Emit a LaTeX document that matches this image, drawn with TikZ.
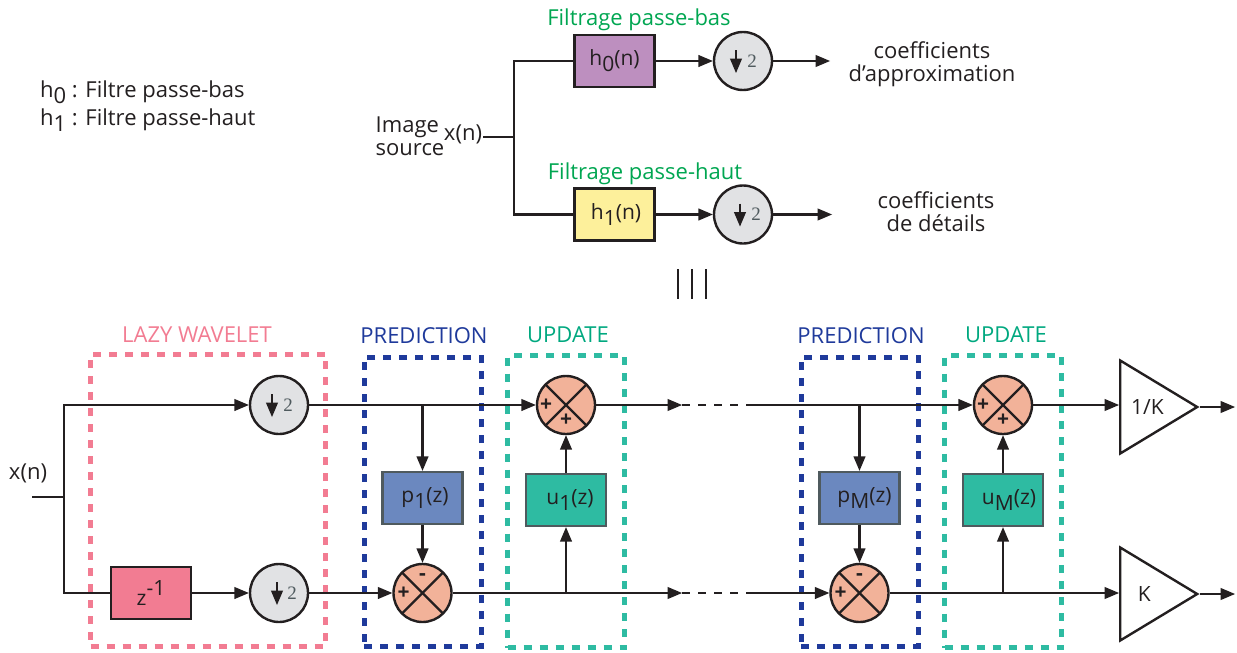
\documentclass[tikz,border=0pt]{standalone}
\usepackage{fontspec}
\setmainfont{Open Sans}
\newfontfamily\numfont{Liberation Serif}
\usepackage{tikz}
\usetikzlibrary{arrows,shapes.geometric}

\definecolor{inkblack}{HTML}{231F20}
\definecolor{mauvefill}{HTML}{BD8FBF}
\definecolor{yellowfill}{HTML}{FDF09B}
\definecolor{greyfill}{HTML}{E1E2E4}
\definecolor{sumfill}{HTML}{F2B299}
\definecolor{lazypink}{HTML}{F27C92}
\definecolor{predblue}{HTML}{6B88BF}
\definecolor{prednavy}{HTML}{1F3A9B}
\definecolor{updteal}{HTML}{2EBBA2}
\definecolor{updtext}{HTML}{00A87F}
\definecolor{filtgreen}{HTML}{00A651}
\definecolor{edgegrey}{HTML}{4F5A5E}

\newcommand{\lowr}[1]{\raisebox{-6pt}{#1}}
\newcommand{\highr}[1]{\raisebox{10pt}{#1}}

\tikzset{
  wire/.style={line width=2.4pt,color=inkblack},
  filterbox/.style={draw=inkblack,line width=2.4pt,minimum width=80pt,minimum height=52pt,inner sep=0pt,text=inkblack},
  liftbox/.style={filterbox,draw=edgegrey},
  dsamp/.style={circle,draw=inkblack,line width=2.4pt,fill=greyfill,minimum size=58pt,inner sep=0pt,
    font=\numfont\fontsize{19pt}{19pt}\selectfont,text=edgegrey,
    path picture={\draw[->,wire] ([xshift=#1,yshift=11pt]path picture bounding box.center) -- ++(0,-23pt);}},
  sumnode/.style={circle,draw=inkblack,line width=2.4pt,fill=sumfill,minimum size=58pt,inner sep=0pt,
    path picture={
      \draw[wire] (path picture bounding box.north west) -- (path picture bounding box.south east);
      \draw[wire] (path picture bounding box.north east) -- (path picture bounding box.south west);}},
  signmark/.style={inner sep=0pt,font=\fontsize{21pt}{21pt}\bfseries\selectfont,text=inkblack},
  gain/.style={isosceles triangle,isosceles triangle stretches,draw=inkblack,line width=2.4pt,
    minimum width=93pt,minimum height=77pt,inner sep=0pt,anchor=lower side,text=inkblack},
  dashbox/.style={line width=5pt,dash pattern=on 8pt off 8pt,inner sep=0pt},
  caption/.style={inner sep=0pt,font=\fontsize{22pt}{23pt}\selectfont,text=inkblack,align=center},
}

\begin{document}
\begin{tikzpicture}[x=1pt,y=-1pt,>=triangle 45,font=\fontsize{21pt}{23pt}\selectfont]
    \useasboundingbox (0,0) rectangle (1237,653);

    % dashed stages
    \node[dashbox,draw=lazypink,minimum width=235pt,minimum height=292pt] (lazy) at (208,500) {};
    \node[dashbox,draw=prednavy,minimum width=117pt,minimum height=289pt] (predA) at (422.5,501.5) {};
    \node[dashbox,draw=updteal,minimum width=117pt,minimum height=292pt] (updA) at (566,501.5) {};
    \node[dashbox,draw=prednavy,minimum width=117pt,minimum height=289pt] (predB) at (859.5,501.5) {};
    \node[dashbox,draw=updteal,minimum width=117pt,minimum height=292pt] (updB) at (1003,501.5) {};

    \node[caption,text=lazypink] (lazyText) at (197,335) {LAZY WAVELET};
    \node[caption,text=prednavy] (predTextA) at (424,336) {PREDICTION};
    \node[caption,text=updtext] (updTextA) at (568,335) {UPDATE};
    \node[caption,text=prednavy] (predTextB) at (861,336) {PREDICTION};
    \node[caption,text=updtext] (updTextB) at (1006,335) {UPDATE};

    % legend
    \node[caption,anchor=west] (legendA) at (40,92.5) {h\lowr{0} : Filtre passe-bas};
    \node[caption,anchor=west] (legendB) at (40,120.5) {h\lowr{1} : Filtre passe-haut};

    % filter bank
    \node[filterbox,fill=mauvefill] (hA) at (614.5,61) {h\lowr{0}(n)};
    \node[dsamp=-7pt] (downA) [right of=hA,node distance=128.5pt] {\hspace*{18pt}2};
    \node[filterbox,fill=yellowfill] (hB) at (614.5,214.5) {\hspace*{3pt}h\lowr{1}(n)};
    \node[dsamp=-3pt] (downB) [right of=hB,node distance=128.5pt] {\hspace*{26pt}2};
    \node[caption,text=filtgreen] (bankTextA) at (639,19.5) {Filtrage passe-bas};
    \node[caption,text=filtgreen] (bankTextB) at (645,173.5) {Filtrage passe-haut};
    \node[caption,align=left] (imgText) at (410,136) {Image\\source};
    \node[caption] (xTextA) at (463,134) {x(n)};
    \node[caption] (approxText) at (932,64) {coefficients\\d'approximation};
    \node[caption] (detailText) at (936,212) {coefficients\\de détails};
    \coordinate (inA) at (483,137);
    \coordinate (splitA) at (514,137);
    \coordinate (outA) at (830,61);
    \coordinate (outB) at (832,214.5);

    \draw[wire] (inA) -- (splitA);
    \draw[wire] (splitA) |- (hA);
    \draw[wire] (splitA) |- (hB);
    \path[->,wire]
    (hA) edge (downA)
    (downA) edge (outA)
    (hB) edge (downB)
    (downB) edge (outB)
    ;

    % equivalence
    \foreach \eqx in {678,692,706}
      \draw[wire] (\eqx,269) -- (\eqx,299);

    % lifting scheme
    \node[caption] (xTextB) at (28,473) {x(n)};
    \node[dsamp=-7pt] (downC) at (279,405) {\hspace*{18pt}2};
    \node[filterbox,fill=lazypink] (delay) at (151,593) {z\highr{-1}};
    \node[dsamp=-2pt] (downD) at (279,593) {\hspace*{26pt}2};
    \node[liftbox,fill=predblue] (pA) at (422.5,498) {\hspace*{5pt}p\lowr{1}(z)};
    \node[sumnode] (sumB) at (422.5,593) {};
    \node[liftbox,fill=updteal] (uA) at (566,500) {\hspace*{8pt}u\lowr{1}(z)};
    \node[sumnode] (sumA) at (566,405) {};
    \node[liftbox,fill=predblue] (pB) at (859.5,498) {\hspace*{10pt}p\lowr{M}(z)};
    \node[sumnode] (sumD) at (859.5,593) {};
    \node[liftbox,fill=updteal] (uB) at (1003,500) {\hspace*{12pt}u\lowr{M}(z)};
    \node[sumnode] (sumC) at (1003,405) {};
    \node[gain] (gainA) at (1119,407) {1/K};
    \node[gain] (gainB) at (1119,594) {K};

    \node[signmark] (signAa) at ([xshift=-20pt]sumA.center) {+};
    \node[signmark] (signAb) at ([yshift=-15pt]sumA.center) {+};
    \node[signmark] (signBa) at ([xshift=-19pt]sumB.center) {+};
    \node[signmark] (signBb) at ([yshift=16pt]sumB.center) {-};
    \node[signmark] (signCa) at ([xshift=-20pt]sumC.center) {+};
    \node[signmark] (signCb) at ([yshift=-15pt]sumC.center) {+};
    \node[signmark] (signDa) at ([xshift=-19pt]sumD.center) {+};
    \node[signmark] (signDb) at ([yshift=16pt]sumD.center) {-};

    \coordinate (inB) at (32,497);
    \coordinate (splitB) at (64,497);
    \coordinate (tapA) at (422.5,405);
    \coordinate (tapB) at (566,593);
    \coordinate (tapC) at (859.5,405);
    \coordinate (tapD) at (1003,593);
    \coordinate (dotsA) at (682,405);
    \coordinate (dotsB) at (753,405);
    \coordinate (dotsC) at (682,593);
    \coordinate (dotsD) at (753,593);
    \coordinate (outC) at (1235,407);
    \coordinate (outD) at (1235,594);

    \draw[wire] (inB) -- (splitB);
    \draw[wire,->] (splitB) |- (downC);
    \draw[wire] (splitB) |- (delay);
    \path[->,wire]
    (delay) edge (downD)
    (downC) edge (sumA)
    (downD) edge (sumB)
    (tapA) edge (pA)
    (pA) edge (sumB)
    (tapB) edge (uA)
    (uA) edge (sumA)
    (sumA) edge (dotsA)
    (sumB) edge (dotsC)
    (dotsB) edge (sumC)
    (dotsD) edge (sumD)
    (tapC) edge (pB)
    (pB) edge (sumD)
    (tapD) edge (uB)
    (uB) edge (sumC)
    (sumC) edge (sumC -| gainA.lower side)
    (sumD) edge (sumD -| gainB.lower side)
    (gainA.apex) edge (outC)
    (gainB.apex) edge (outD)
    ;
    \path[wire,dash pattern=on 8pt off 8pt]
    (dotsA) edge (dotsB)
    (dotsC) edge (dotsD)
    ;
  \end{tikzpicture}
\end{document}
